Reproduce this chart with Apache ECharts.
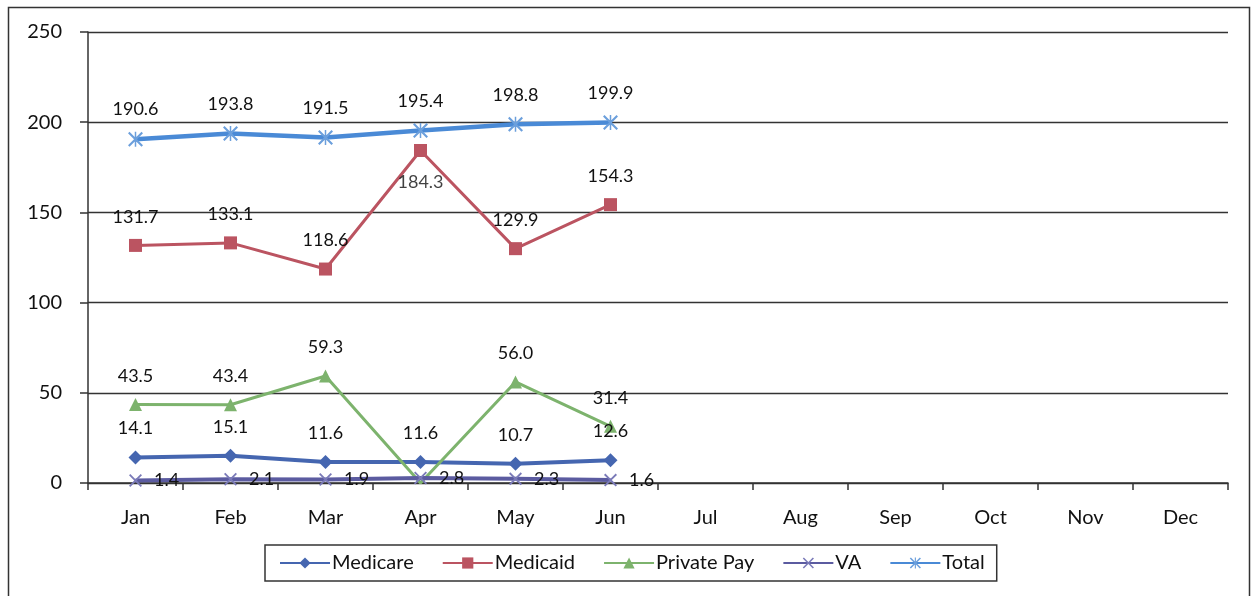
<!DOCTYPE html>
<html>
<head>
<meta charset="utf-8">
<script src="https://cdn.jsdelivr.net/npm/echarts@6/dist/echarts.min.js"></script>
<style>
html,body{margin:0;padding:0;background:#fff;}
#c{width:1251px;height:596px;}
</style>
</head>
<body>
<div id="c"></div>
<script>
const categories = ['Jan','Feb','Mar','Apr','May','Jun','Jul','Aug','Sep','Oct','Nov','Dec'];
const medicare = [14.1, 15.1, 11.6, 11.6, 10.7, 12.6];
const medicaid = [131.7, 133.1, 118.6, 184.3, 129.9, 154.3];
const privatePay = [43.5, 43.4, 59.3, 0, 56.0, 31.4];
const va = [1.4, 2.1, 1.9, 2.8, 2.3, 1.6];
const total = [190.6, 193.8, 191.5, 195.4, 198.8, 199.9];
const yTicks = [0, 50, 100, 150, 200, 250];

const FONT = 'Lato, "Open Sans", sans-serif';
const xSym = 'path://M0,0.1 L0.1,0 L0.5,0.4 L0.9,0 L1,0.1 L0.6,0.5 L1,0.9 L0.9,1 L0.5,0.6 L0.1,1 L0,0.9 L0.4,0.5 Z';
const starSym = 'path://M0,0.1 L0.1,0 L0.5,0.4 L0.9,0 L1,0.1 L0.6,0.5 L1,0.9 L0.9,1 L0.5,0.6 L0.1,1 L0,0.9 L0.4,0.5 Z M0.45,0 L0.55,0 L0.55,1 L0.45,1 Z';

const lbl = {show: true, position: 'top', distance: 13, color: '#111', fontSize: 18, fontFamily: FONT, formatter: p => Number(p.value).toFixed(1)};
const BELOW = 3; // index of the Medicaid point whose label sits below it

const chart = echarts.init(document.getElementById('c'));
chart.setOption({
  animation: false,
  backgroundColor: '#fff',
  graphic: [{type: 'rect', shape: {x: 8.5, y: 7.5, width: 1241, height: 600}, style: {fill: 'none', stroke: '#333', lineWidth: 1.5}, z: -1}],
  grid: {left: 88, right: 23, top: 32, bottom: 113},
  legend: {
    left: 265, top: 545,
    padding: [8, 12, 8, 14],
    borderColor: '#333', borderWidth: 1.5,
    itemWidth: 50, itemHeight: 14, itemGap: 28,
    textStyle: {fontSize: 20, fontFamily: FONT, color: '#111', padding: [0, 0, 0, -3]},
    data: ['Medicare','Medicaid','Private Pay','VA','Total']
  },
  xAxis: {
    type: 'category', data: categories, boundaryGap: true,
    axisLine: {lineStyle: {color: '#333', width: 1.5}},
    axisTick: {show: true, interval: 0, length: 7, lineStyle: {color: '#333', width: 1.5}},
    axisLabel: {fontSize: 20, fontFamily: FONT, color: '#111', margin: 25, interval: 0}
  },
  yAxis: {
    type: 'value', min: yTicks[0], max: yTicks[yTicks.length-1], interval: 50,
    axisLine: {show: true, lineStyle: {color: '#333', width: 1.5}},
    axisTick: {show: true, length: 8, lineStyle: {color: '#333', width: 1.5}},
    axisLabel: {fontSize: 20, fontFamily: FONT, color: '#111', margin: 26},
    splitLine: {lineStyle: {color: '#333', width: 1.3}}
  },
  series: [
    {name: 'Medicare', type: 'line', data: medicare, symbol: 'diamond', symbolSize: 14,
     lineStyle: {width: 4, color: '#4566b0'}, itemStyle: {color: '#4566b0'}, label: lbl},
    {name: 'Medicaid', type: 'line', symbol: 'rect', symbolSize: 13,
     data: medicaid.map((v, i) => i === BELOW ? {value: v, label: {show: false}} : v),
     lineStyle: {width: 3, color: '#bb5461'}, itemStyle: {color: '#bb5461'}, label: lbl},
    {name: 'Medicaid label', type: 'scatter', symbol: 'rect', symbolSize: 13, z: 5,
     data: medicaid.map((v, i) => i === BELOW ? v : '-'),
     itemStyle: {color: '#bb5461'}, tooltip: {show: false},
     label: Object.assign({}, lbl, {position: 'bottom', distance: 16})},
    {name: 'Private Pay', type: 'line', symbol: 'triangle', symbolSize: 13,
     data: privatePay.map((v, i) => i === 3 ? {value: v, symbol: 'none', label: {show: false}} : v),
     lineStyle: {width: 3, color: '#7db36d'}, itemStyle: {color: '#7db36d'}, label: lbl},
    {name: 'VA', type: 'line', data: va, symbol: xSym, symbolSize: 13,
     lineStyle: {width: 4, color: '#5b5ba0'}, itemStyle: {color: '#7a7ab8'},
     label: Object.assign({}, lbl, {position: 'right', distance: 12})},
    {name: 'Total', type: 'line', data: total, symbol: starSym, symbolSize: 15,
     lineStyle: {width: 4.5, color: '#4a8ad6'}, itemStyle: {color: '#6b9fdc'}, label: lbl}
  ]
});
</script>
</body>
</html>
